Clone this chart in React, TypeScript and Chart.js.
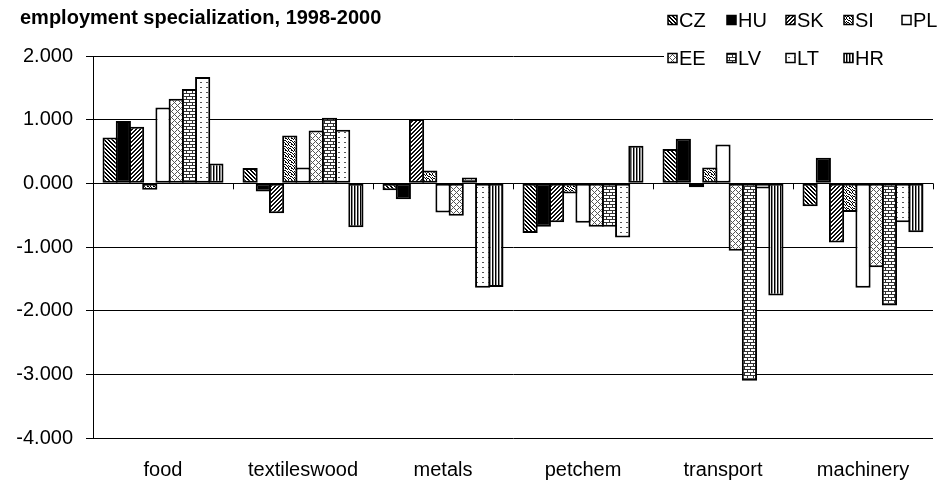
import React, { useEffect, useRef } from 'react';
import { Chart, registerables } from 'chart.js';

Chart.register(...registerables);

const categories = ['food', 'textileswood', 'metals', 'petchem', 'transport', 'machinery'];
const seriesNames = ['CZ', 'HU', 'SK', 'SI', 'PL', 'EE', 'LV', 'LT', 'HR'];
const CZ = [0.72, 0.24, -0.11, -0.78, 0.54, -0.36];
const HU = [0.98, -0.13, -0.25, -0.68, 0.7, 0.4];
const SK = [0.89, -0.47, 1.01, -0.61, -0.06, -0.93];
const SI = [-0.1, 0.75, 0.2, -0.16, 0.25, -0.45];
const PL = [1.19, 0.25, -0.46, -0.62, 0.61, -1.64];
const EE = [1.33, 0.83, -0.51, -0.68, -1.06, -1.32];
const LV = [1.48, 1.03, 0.09, -0.68, -3.1, -1.92];
const LT = [1.67, 0.84, -1.64, -0.85, -0.08, -0.61];
const HR = [0.31, -0.69, -1.63, 0.59, -1.76, -0.77];
const seriesValues = [CZ, HU, SK, SI, PL, EE, LV, LT, HR];
const yTicks = [-4, -3, -2, -1, 0, 1, 2];
const titleText = 'employment specialization, 1998-2000';

const FONT = '"Liberation Sans", Arial, sans-serif';

function makePattern(kind: string): CanvasPattern | string {
  if (kind === 'HU') return '#000000';
  if (kind === 'PL') return '#ffffff';
  const c = document.createElement('canvas');
  const ctx = c.getContext('2d')!;
  const px = (x: number, y: number, col: string) => {
    ctx.fillStyle = col;
    ctx.fillRect(x, y, 1, 1);
  };
  const fillAll = (w: number, h: number) => {
    c.width = w;
    c.height = h;
    ctx.fillStyle = '#ffffff';
    ctx.fillRect(0, 0, w, h);
  };
  if (kind === 'CZ') {
    fillAll(4, 4);
    for (let y = 0; y < 4; y++)
      for (let x = 0; x < 4; x++) {
        const d = (x - y + 8) % 4;
        if (d === 0 || d === 1) px(x, y, '#000');
      }
  } else if (kind === 'SK') {
    fillAll(4, 4);
    for (let y = 0; y < 4; y++)
      for (let x = 0; x < 4; x++) {
        const d = (x + y) % 4;
        if (d === 0 || d === 1) px(x, y, '#111');
      }
  } else if (kind === 'SI') {
    fillAll(6, 6);
    const pts = [
      [0, 0], [3, 0], [4, 0], [1, 1], [5, 1], [2, 2], [3, 2], [0, 3], [4, 3],
      [1, 4], [2, 4], [5, 4], [0, 5], [3, 5],
    ];
    pts.forEach(([x, y]) => px(x, y, '#000'));
  } else if (kind === 'EE') {
    fillAll(6, 6);
    for (let y = 0; y < 6; y++)
      for (let x = 0; x < 6; x++) {
        if ((x + y) % 6 === 0 || (x - y + 6) % 6 === 0) px(x, y, '#555');
      }
  } else if (kind === 'LV') {
    fillAll(6, 6);
    for (let x = 0; x < 6; x++) {
      px(x, 0, '#333');
      px(x, 3, '#333');
    }
    px(0, 1, '#333');
    px(0, 2, '#333');
    px(3, 4, '#333');
    px(3, 5, '#333');
  } else if (kind === 'LT') {
    fillAll(6, 5);
    px(2, 2, '#555');
    px(3, 2, '#555');
  } else if (kind === 'HR') {
    fillAll(3, 1);
    px(0, 0, '#000');
    px(1, 0, '#888');
  }
  return ctx.createPattern(c, 'repeat') as CanvasPattern;
}

const legendCols = [668, 727, 786, 844, 902];
const legendRows = [20, 58];

export default function App() {
  const ref = useRef<HTMLCanvasElement | null>(null);

  useEffect(() => {
    const canvas = ref.current;
    if (!canvas) return;
    const fills = seriesNames.map((n) => makePattern(n));

    const overlay = {
      id: 'overlay',
      afterDatasetsDraw(chart: any) {
        const { ctx, scales } = chart;
        const x = scales.x;
        const y = scales.y;
        const y0 = y.getPixelForValue(0);
        ctx.save();
        ctx.strokeStyle = '#000';
        ctx.lineWidth = 1;
        for (let i = 0; i <= categories.length; i++) {
          const xp = Math.round(x.getPixelForValue(i - 0.5)) + 0.5;
          ctx.beginPath();
          ctx.moveTo(xp, y0);
          ctx.lineTo(xp, y0 + 6);
          ctx.stroke();
        }
        ctx.restore();
      },
      afterDraw(chart: any) {
        const { ctx } = chart;
        ctx.save();
        ctx.fillStyle = '#000';
        ctx.font = `bold 20px ${FONT}`;
        ctx.textBaseline = 'middle';
        ctx.textAlign = 'left';
        ctx.fillText(titleText, 20, 18);
        ctx.fillStyle = '#fff';
        ctx.fillRect(664, 2, 284, 70);
        ctx.font = `20px ${FONT}`;
        seriesNames.forEach((name, i) => {
          const row = i < 5 ? 0 : 1;
          const col = i < 5 ? i : i - 5;
          const bx = legendCols[col];
          const cy = legendRows[row];
          const bs = 9;
          ctx.fillStyle = fills[i] as any;
          ctx.fillRect(bx, cy - bs / 2, bs, bs);
          ctx.strokeStyle = '#000';
          ctx.lineWidth = 1.5;
          ctx.strokeRect(bx, cy - bs / 2, bs, bs);
          ctx.fillStyle = '#000';
          ctx.fillText(name, bx + bs + 2, cy + 1);
        });
        ctx.restore();
      },
    };

    const chart = new Chart(canvas, {
      type: 'bar',
      data: {
        labels: categories,
        datasets: seriesNames.map((name, i) => ({
          label: name,
          data: seriesValues[i],
          backgroundColor: fills[i] as any,
          borderColor: '#000',
          borderWidth: 2,
          borderSkipped: false as any,
          categoryPercentage: 0.85,
          barPercentage: 1.15,
        })),
      },
      options: {
        responsive: false,
        animation: false,
        devicePixelRatio: 1,
        layout: { padding: { top: 56, right: 15, left: 0, bottom: 0 } },
        plugins: {
          legend: { display: false },
          title: { display: false },
          tooltip: { enabled: false },
        },
        scales: {
          x: {
            grid: { display: false, drawTicks: false },
            border: { display: false },
            ticks: {
              padding: 20,
              color: '#000',
              font: { size: 20, family: FONT },
              maxRotation: 0,
              autoSkip: false,
            },
            afterFit: (s: any) => {
              s.height = 46;
            },
          },
          y: {
            min: -4,
            max: 2,
            afterBuildTicks: (s: any) => {
              s.ticks = yTicks.map((v) => ({ value: v }));
            },
            ticks: {
              padding: 13,
              color: '#000',
              font: { size: 20, family: FONT },
              callback: (v: any) => Number(v).toFixed(3),
            },
            grid: { color: '#000', lineWidth: 1, tickLength: 7, drawTicks: true },
            border: { color: '#000', width: 1 },
            afterFit: (s: any) => {
              s.width = 93;
            },
          },
        },
      },
      plugins: [overlay],
    });
    return () => chart.destroy();
  }, []);

  return (
    <div style={{ position: 'fixed', left: 0, top: 0, width: 948, height: 484, background: '#fff' }}>
      <canvas ref={ref} width={948} height={484} style={{ display: 'block' }} />
    </div>
  );
}
